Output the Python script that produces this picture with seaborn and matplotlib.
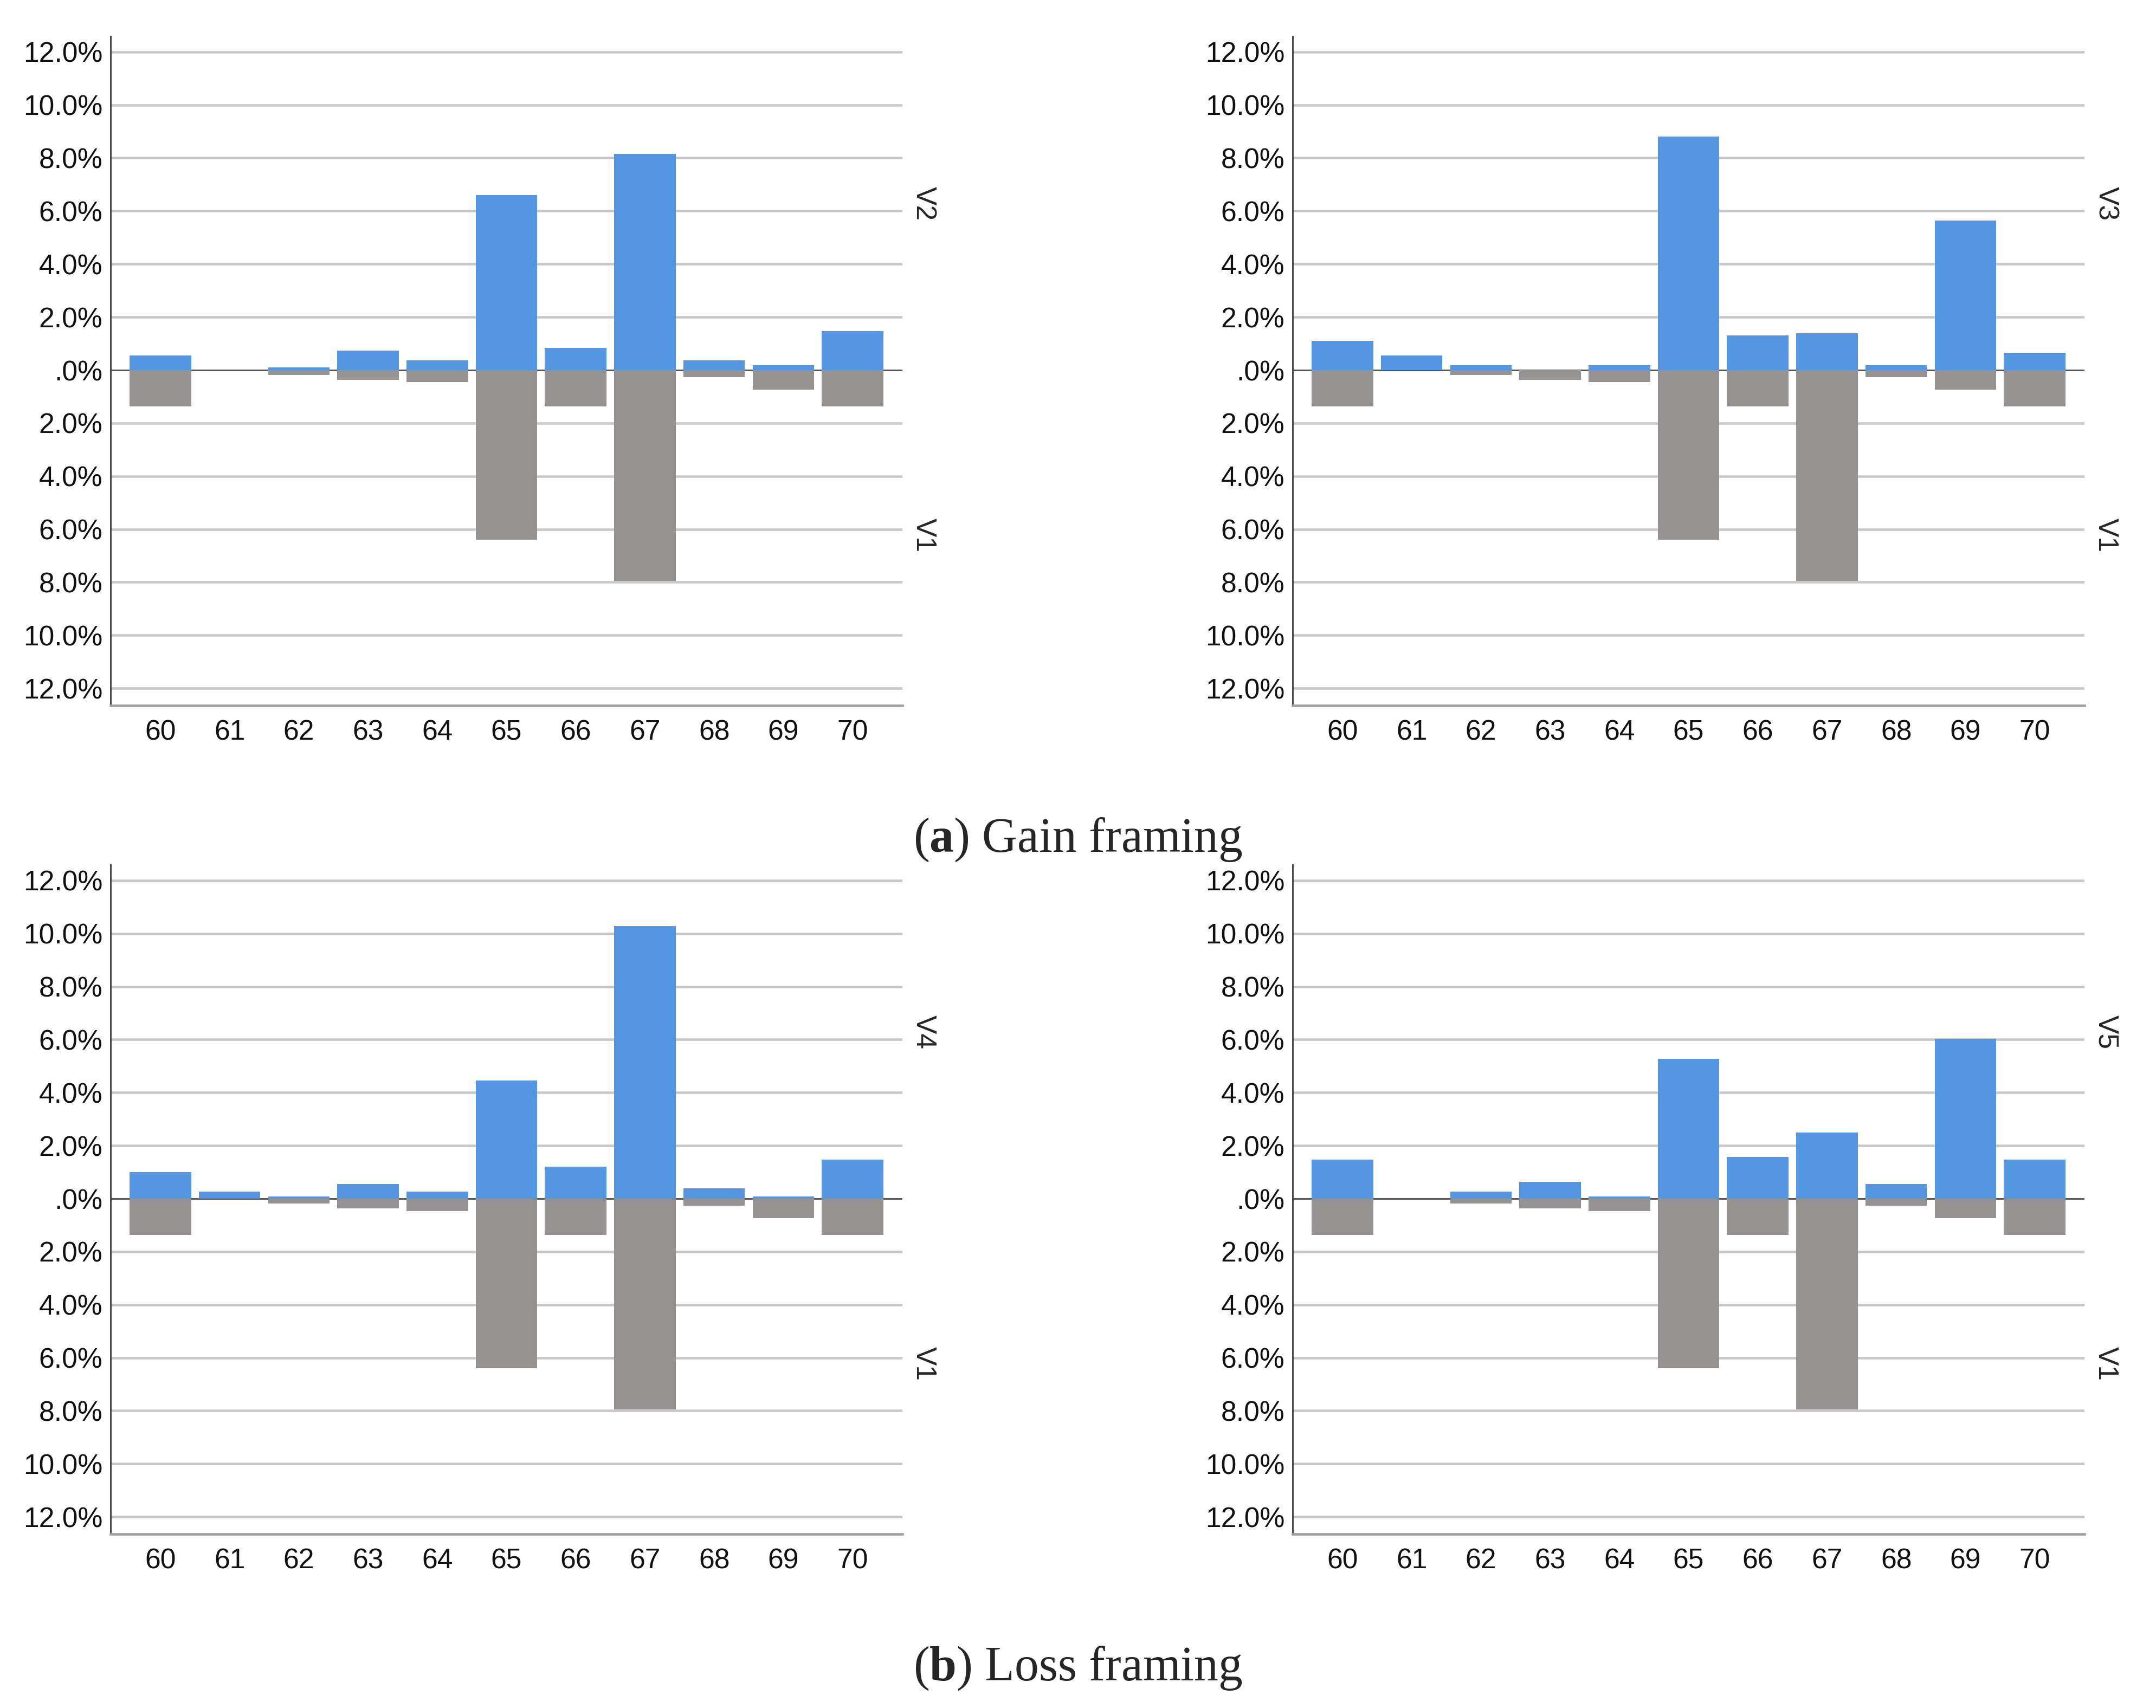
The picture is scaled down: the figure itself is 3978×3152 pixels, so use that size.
import numpy as np
import pandas as pd
import matplotlib
matplotlib.use("Agg")
import matplotlib.pyplot as plt
from matplotlib.ticker import FuncFormatter, MultipleLocator
import seaborn as sns

# ==============================
# DATA (percent of respondents per answer)
# ==============================
ages = ["60", "61", "62", "63", "64", "65", "66", "67", "68", "69", "70"]

v1 = [1.37, 0.0, 0.18, 0.36, 0.46, 6.39, 1.37, 7.96, 0.27, 0.73, 1.37]
v2 = [0.55, 0.0, 0.11, 0.73, 0.36, 6.59, 0.84, 8.16, 0.36, 0.18, 1.48]
v3 = [1.11, 0.55, 0.18, 0.0, 0.18, 8.80, 1.31, 1.39, 0.18, 5.64, 0.66]
v4 = [1.00, 0.27, 0.09, 0.55, 0.27, 4.45, 1.20, 10.27, 0.38, 0.09, 1.48]
v5 = [1.48, 0.0, 0.27, 0.64, 0.09, 5.27, 1.57, 2.50, 0.55, 6.02, 1.48]

panels = [("V2", v2), ("V3", v3), ("V4", v4), ("V5", v5)]

# ==============================
# STYLE
# ==============================
sns.set_style("white")
plt.rcParams['font.family'] = ['Liberation Sans', 'DejaVu Sans']
plt.rcParams['mathtext.fontset'] = 'custom'
plt.rcParams['mathtext.rm'] = 'Liberation Serif'
plt.rcParams['mathtext.bf'] = 'Liberation Serif:bold'

BLUE = "#5596E3"
GREY = "#969291"
GRID = "#C8C8C8"

fig = plt.figure(figsize=(13.26, 10.507), dpi=300)

W, H = 3978, 3152
ax_w = (1665 - 204) / W
ax_h = (1302 - 67) / H
lefts = [204 / W, 2385 / W]
bottoms = [1 - 1302 / H, 1 - 2831 / H]

positions = [(lefts[0], bottoms[0]), (lefts[1], bottoms[0]),
             (lefts[0], bottoms[1]), (lefts[1], bottoms[1])]


def pct_fmt(v, pos):
    s = f"{abs(v):.1f}%"
    if s.startswith("0"):
        s = s[1:]
    return s


for (label, vals), (l, b) in zip(panels, positions):
    ax = fig.add_axes([l, b, ax_w, ax_h])

    df_up = pd.DataFrame({"age": ages, "pct": vals})
    df_dn = pd.DataFrame({"age": ages, "pct": [-x for x in v1]})

    # grid lines behind bars
    for g in np.arange(-12, 13, 2):
        if g == 0:
            continue
        ax.axhline(g, color=GRID, lw=1.1, zorder=0)
    ax.axhline(0, color="#555555", lw=0.7, zorder=1)

    sns.barplot(data=df_up, x="age", y="pct", order=ages, color=BLUE,
                saturation=1, width=0.89, linewidth=0, ax=ax, zorder=2)
    sns.barplot(data=df_dn, x="age", y="pct", order=ages, color=GREY,
                saturation=1, width=0.89, linewidth=0, ax=ax, zorder=2)

    ax.set_xlim(-0.72, 10.72)
    ax.set_ylim(-12.65, 12.59)
    ax.yaxis.set_major_locator(MultipleLocator(2))
    ax.yaxis.set_major_formatter(FuncFormatter(pct_fmt))
    ax.set_xlabel("")
    ax.set_ylabel("")
    ax.tick_params(axis="both", length=0, labelsize=12.4, colors="#111111")
    ax.tick_params(axis="y", pad=3.5)
    ax.tick_params(axis="x", pad=6)

    for s in ["top", "right"]:
        ax.spines[s].set_visible(False)
    ax.spines["left"].set_color("#444444")
    ax.spines["left"].set_linewidth(0.7)
    ax.spines["bottom"].set_color("#A0A0A0")
    ax.spines["bottom"].set_linewidth(1.1)

    ax.text(1.027, 0.75, label, transform=ax.transAxes, rotation=270,
            ha="center", va="center", fontsize=12.4)
    ax.text(1.027, 0.255, "V1", transform=ax.transAxes, rotation=270,
            ha="center", va="center", fontsize=12.4)

# captions
fig.text(0.5, 1 - 1550 / H, r"($\mathbf{a}$) Gain framing", ha="center",
         va="center", fontsize=21.5, family="Liberation Serif")
fig.text(0.5, 1 - 3078 / H, r"($\mathbf{b}$) Loss framing", ha="center",
         va="center", fontsize=21.5, family="Liberation Serif")

fig.savefig("out.png", dpi=300, facecolor="white")
